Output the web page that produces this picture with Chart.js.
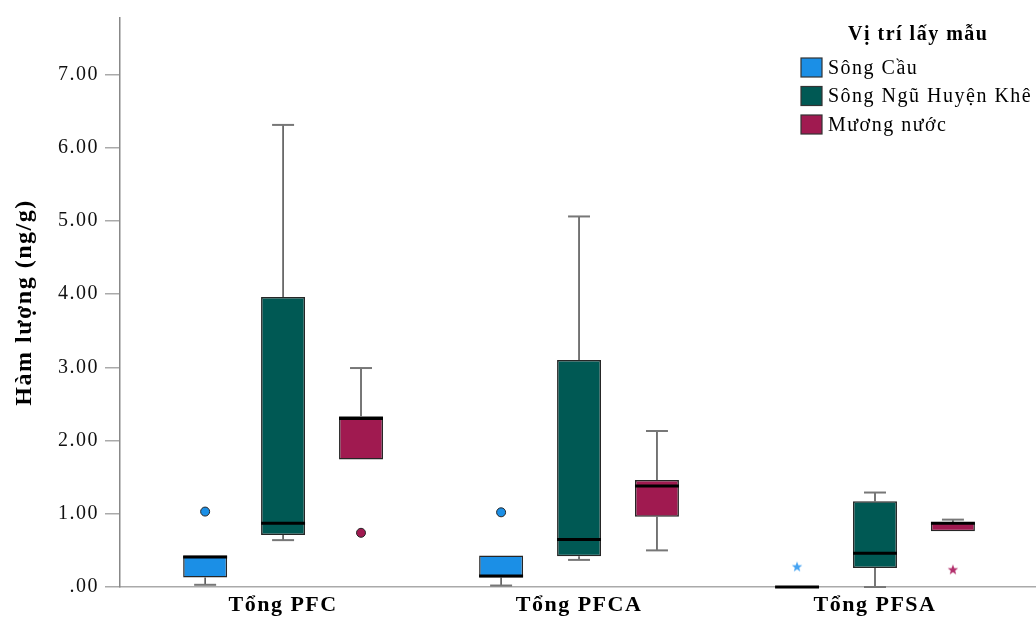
<!DOCTYPE html>
<html lang="vi">
<head>
<meta charset="UTF-8">
<title>Hàm lượng PFC theo vị trí lấy mẫu</title>
<script src="https://cdn.jsdelivr.net/npm/chart.js"></script>
<style>
    html, body { margin: 0; padding: 0; background: #ffffff; }
    canvas { display: block; }
</style>
</head>
<body>
<canvas id="chart" width="1036" height="621"></canvas>
<script>
// categories and sampling locations
const categories = ['Tổng PFC', 'Tổng PFCA', 'Tổng PFSA'];
const locations = ['Sông Cầu', 'Sông Ngũ Huyện Khê', 'Mương nước'];
const yTicks = [0, 1, 2, 3, 4, 5, 6, 7];

// box plot values (one entry per category)
const songCauMin = [0.03, 0.02, 0.00];
const songCauQ1  = [0.13, 0.13, 0.00];
const songCauMed = [0.41, 0.15, 0.00];
const songCauQ3  = [0.43, 0.43, 0.00];
const songCauMax = [0.43, 0.43, 0.00];
const songCauOutliers = [1.03, 1.02, null];
const songCauExtremes = [null, null, 0.28];

const nguHuyenKheMin = [0.64, 0.37, 0.00];
const nguHuyenKheQ1  = [0.71, 0.42, 0.26];
const nguHuyenKheMed = [0.87, 0.65, 0.46];
const nguHuyenKheQ3  = [3.96, 3.10, 1.17];
const nguHuyenKheMax = [6.31, 5.06, 1.29];
const nguHuyenKheOutliers = [null, null, null];
const nguHuyenKheExtremes = [null, null, null];

const muongNuocMin = [1.74, 0.50, 0.76];
const muongNuocQ1  = [1.74, 0.96, 0.76];
const muongNuocMed = [2.30, 1.38, 0.87];
const muongNuocQ3  = [2.33, 1.46, 0.88];
const muongNuocMax = [2.99, 2.13, 0.92];
const muongNuocOutliers = [0.74, null, null];
const muongNuocExtremes = [null, null, 0.24];

const colors = ['#1b8fe6', '#005954', '#a01a50'];
const starColors = ['#45a3f2', '#005954', '#b3306c'];
const FONT = '"Liberation Serif", "Times New Roman", serif';
const SPACING = '1.5px';

const boxes = [
    { min: songCauMin, q1: songCauQ1, med: songCauMed, q3: songCauQ3, max: songCauMax, out: songCauOutliers, ext: songCauExtremes },
    { min: nguHuyenKheMin, q1: nguHuyenKheQ1, med: nguHuyenKheMed, q3: nguHuyenKheQ3, max: nguHuyenKheMax, out: nguHuyenKheOutliers, ext: nguHuyenKheExtremes },
    { min: muongNuocMin, q1: muongNuocQ1, med: muongNuocMed, q3: muongNuocQ3, max: muongNuocMax, out: muongNuocOutliers, ext: muongNuocExtremes }
];

const catPct = 0.79;
const barPct = 0.564;

// small filled five-point star used for extreme values
function starImage(color) {
    const c = document.createElement('canvas');
    c.width = 12; c.height = 12;
    const g = c.getContext('2d');
    g.fillStyle = color;
    g.beginPath();
    for (let i = 0; i < 10; i++) {
        const r = i % 2 === 0 ? 5.5 : 2.3;
        const a = -Math.PI / 2 + i * Math.PI / 5;
        g.lineTo(6 + r * Math.cos(a), 6.5 + r * Math.sin(a));
    }
    g.closePath();
    g.fill();
    return c;
}

const datasets = [];
boxes.forEach((b, k) => {
    datasets.push({
        type: 'bar',
        label: locations[k],
        data: categories.map((c, i) => ({ x: i, y: [b.q1[i], b.q3[i]] })),
        backgroundColor: colors[k],
        borderColor: '#262626',
        borderWidth: 1.5,
        borderSkipped: false,
        categoryPercentage: catPct,
        barPercentage: barPct
    });
});
// outliers (circles) and extremes (stars), placed at the box slot of each location
boxes.forEach((b, k) => {
    const shift = (k - 1) * catPct / locations.length;
    datasets.push({
        type: 'scatter',
        label: locations[k] + ' outlier',
        data: b.out.map((v, i) => v === null ? null : { x: i + shift, y: v }).filter(p => p),
        pointStyle: 'circle',
        pointRadius: 4.5,
        backgroundColor: colors[k],
        borderColor: '#262626',
        borderWidth: 1
    });
    datasets.push({
        type: 'scatter',
        label: locations[k] + ' extreme',
        data: b.ext.map((v, i) => v === null ? null : { x: i + shift, y: v }).filter(p => p),
        pointStyle: starImage(starColors[k]),
        pointRadius: 6
    });
});

// slightly wider letter spacing, like the original rendering
const spacingPlugin = {
    id: 'spacing',
    beforeDraw(chart) { chart.ctx.letterSpacing = SPACING; }
};

const whiskerPlugin = {
    id: 'whiskers',
    afterDatasetsDraw(chart) {
        const ctx = chart.ctx;
        const y = chart.scales.y;
        boxes.forEach((b, k) => {
            const meta = chart.getDatasetMeta(k);
            meta.data.forEach((el, i) => {
                const x = el.x;
                const w = el.width;
                const cap = w / 2;
                ctx.save();
                ctx.lineWidth = 1.5;
                ctx.strokeStyle = '#4a4a4a';
                const segs = [[b.q3[i], b.max[i]], [b.q1[i], b.min[i]]];
                segs.forEach(([from, to]) => {
                    if (from === to) return;
                    ctx.beginPath();
                    ctx.moveTo(x, y.getPixelForValue(from));
                    ctx.lineTo(x, y.getPixelForValue(to));
                    ctx.stroke();
                    ctx.save();
                    ctx.strokeStyle = '#777';
                    ctx.lineWidth = 2;
                    ctx.beginPath();
                    ctx.moveTo(x - cap / 2, y.getPixelForValue(to));
                    ctx.lineTo(x + cap / 2, y.getPixelForValue(to));
                    ctx.stroke();
                    ctx.restore();
                });
                // median
                ctx.strokeStyle = '#000';
                ctx.lineWidth = 3;
                const my = y.getPixelForValue(b.med[i]);
                ctx.beginPath();
                ctx.moveTo(x - w / 2, my);
                ctx.lineTo(x + w / 2, my);
                ctx.stroke();
                ctx.restore();
            });
        });
    }
};

const legendPlugin = {
    id: 'boxLegend',
    afterDraw(chart) {
        const ctx = chart.ctx;
        ctx.save();
        ctx.letterSpacing = SPACING;
        ctx.fillStyle = '#000';
        ctx.font = 'bold 20px ' + FONT;
        ctx.textAlign = 'left';
        ctx.textBaseline = 'middle';
        ctx.fillText('Vị trí lấy mẫu', 848, 35);
        ctx.font = '20px ' + FONT;
        locations.forEach((name, k) => {
            const cy = 67.5 + k * 28.5;
            ctx.fillStyle = colors[k];
            ctx.fillRect(801, cy - 9.5, 21, 19);
            ctx.strokeStyle = '#333';
            ctx.lineWidth = 1.2;
            ctx.strokeRect(801, cy - 9.5, 21, 19);
            ctx.fillStyle = '#000';
            ctx.fillText(name, 828, cy + 1);
        });
        ctx.restore();
    }
};

new Chart(document.getElementById('chart').getContext('2d'), {
    data: { datasets: datasets },
    options: {
        responsive: false,
        animation: false,
        devicePixelRatio: 1,
        layout: { autoPadding: false, padding: { top: 11, right: 0, left: 0, bottom: 0 } },
        plugins: {
            legend: { display: false },
            tooltip: { enabled: false }
        },
        scales: {
            x: {
                type: 'linear',
                offset: false,
                min: -0.551,
                max: 2.544,
                afterBuildTicks: scale => { scale.ticks = categories.map((c, i) => ({ value: i })); },
                afterFit: scale => { scale.height = 34; },
                grid: { display: false, drawTicks: false, offset: false },
                border: { display: true, color: '#aaaaaa', width: 1.5 },
                ticks: {
                    autoSkip: false,
                    maxRotation: 0,
                    padding: 5,
                    color: '#000',
                    font: { family: FONT, size: 22, weight: 'bold' },
                    callback: v => categories[v]
                }
            },
            y: {
                min: 0,
                max: 7.77,
                afterBuildTicks: scale => { scale.ticks = yTicks.map(v => ({ value: v })); },
                afterFit: scale => { scale.width = 120; },
                grid: { display: true, drawOnChartArea: false, drawTicks: true, tickLength: 15, color: '#aaaaaa', lineWidth: 1.5 },
                border: { display: true, color: '#888888', width: 1.5 },
                title: {
                    display: true,
                    text: 'Hàm lượng (ng/g)',
                    color: '#000',
                    font: { family: FONT, size: 24, weight: 'bold' },
                    padding: { top: 10, bottom: 0 }
                },
                ticks: {
                    padding: 6,
                    color: '#111',
                    font: { family: FONT, size: 20 },
                    callback: v => v === 0 ? '.00' : v.toFixed(2)
                }
            }
        }
    },
    plugins: [spacingPlugin, whiskerPlugin, legendPlugin]
});
</script>
</body>
</html>
